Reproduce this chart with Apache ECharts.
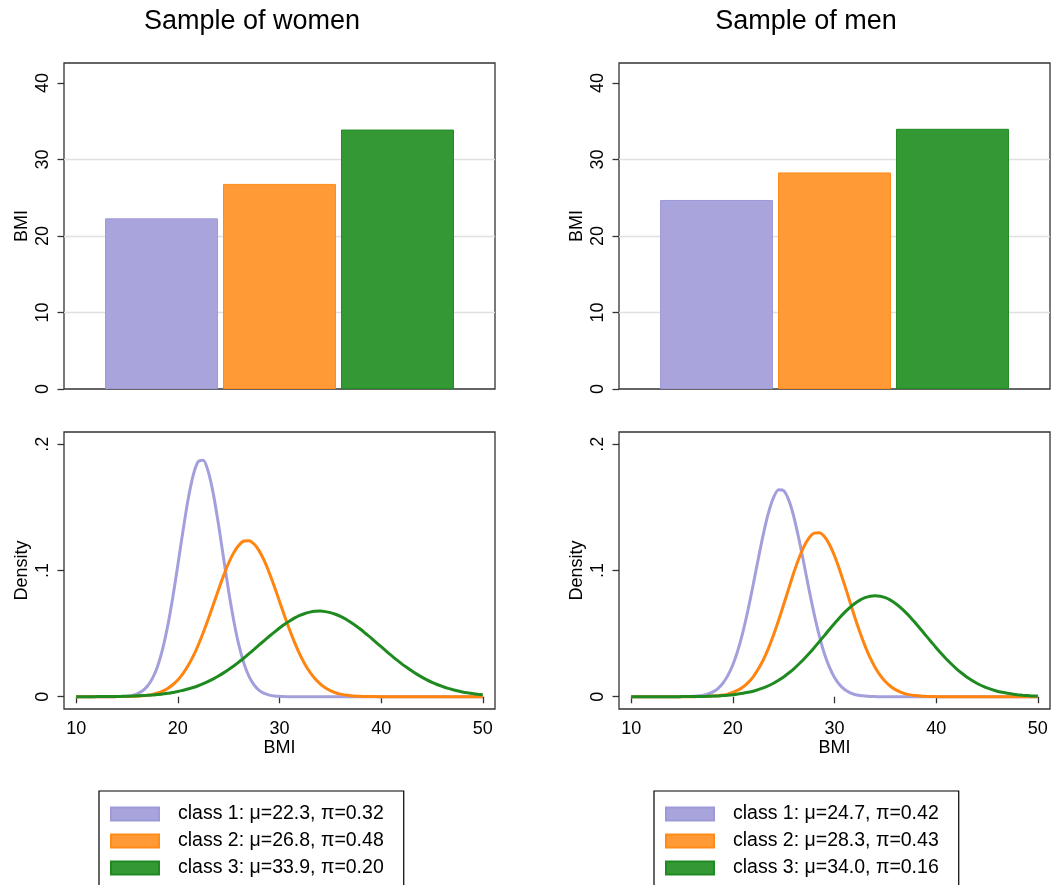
<!DOCTYPE html>
<html>
<head>
<meta charset="utf-8">
<title>BMI latent classes</title>
<script src="https://cdn.jsdelivr.net/npm/echarts@6.0.0/dist/echarts.min.js"></script>
<style>
  html, body { margin: 0; padding: 0; background: #fff; }
  #chart { width: 1051px; height: 885px; }
</style>
</head>
<body>
<div id="chart"></div>
<script>
// class means (bar heights) and shares
const classNames = ['class 1', 'class 2', 'class 3']
const womenMu = [22.3, 26.8, 33.9]
const womenPi = ['0.32', '0.48', '0.20']
const menMu = [24.7, 28.3, 34.0]
const menPi = ['0.42', '0.43', '0.16']

// BMI grid for the density curves (half units)
const bmi = [
  10, 10.5, 11, 11.5, 12, 12.5, 13, 13.5, 14, 14.5,
  15, 15.5, 16, 16.5, 17, 17.5, 18, 18.5, 19, 19.5,
  20, 20.5, 21, 21.5, 22, 22.5, 23, 23.5, 24, 24.5,
  25, 25.5, 26, 26.5, 27, 27.5, 28, 28.5, 29, 29.5,
  30, 30.5, 31, 31.5, 32, 32.5, 33, 33.5, 34, 34.5,
  35, 35.5, 36, 36.5, 37, 37.5, 38, 38.5, 39, 39.5,
  40, 40.5, 41, 41.5, 42, 42.5, 43, 43.5, 44, 44.5,
  45, 45.5, 46, 46.5, 47, 47.5, 48, 48.5, 49, 49.5,
  50]

// densities (women)
const womenDens1 = [
  0, 0, 0, 0, 0, 0, 0, 0, 0.0001, 0.0002,
  0.0005, 0.0011, 0.0023, 0.0045, 0.0083, 0.0145, 0.0240, 0.0377, 0.0560, 0.0786,
  0.1044, 0.1311, 0.1558, 0.1751, 0.1861, 0.1872, 0.1780, 0.1602, 0.1363, 0.1097,
  0.0835, 0.0602, 0.0410, 0.0264, 0.0161, 0.0093, 0.0051, 0.0026, 0.0013, 0.0006,
  0.0003, 0.0001, 0, 0, 0, 0, 0, 0, 0, 0,
  0, 0, 0, 0, 0, 0, 0, 0, 0, 0,
  0, 0, 0, 0, 0, 0, 0, 0, 0, 0,
  0, 0, 0, 0, 0, 0, 0, 0, 0, 0,
  0]
const womenDens2 = [
  0, 0, 0, 0, 0, 0, 0, 0, 0.0001, 0.0001,
  0.0002, 0.0003, 0.0004, 0.0007, 0.0012, 0.0019, 0.0030, 0.0045, 0.0066, 0.0095,
  0.0133, 0.0183, 0.0245, 0.0319, 0.0408, 0.0508, 0.0617, 0.0732, 0.0848, 0.0959,
  0.1059, 0.1141, 0.1200, 0.1233, 0.1236, 0.1209, 0.1155, 0.1077, 0.0980, 0.0871,
  0.0755, 0.0640, 0.0529, 0.0427, 0.0336, 0.0258, 0.0194, 0.0142, 0.0102, 0.0071,
  0.0048, 0.0032, 0.0021, 0.0013, 0.0008, 0.0005, 0.0003, 0.0002, 0.0001, 0.0001,
  0, 0, 0, 0, 0, 0, 0, 0, 0, 0,
  0, 0, 0, 0, 0, 0, 0, 0, 0, 0,
  0]
const womenDens3 = [
  0, 0, 0, 0, 0.0001, 0.0001, 0.0001, 0.0002, 0.0002, 0.0003,
  0.0004, 0.0005, 0.0007, 0.0009, 0.0011, 0.0014, 0.0017, 0.0022, 0.0027, 0.0034,
  0.0041, 0.0051, 0.0061, 0.0073, 0.0087, 0.0103, 0.0122, 0.0142, 0.0164, 0.0189,
  0.0216, 0.0244, 0.0275, 0.0307, 0.0341, 0.0375, 0.0410, 0.0445, 0.0479, 0.0512,
  0.0544, 0.0574, 0.0600, 0.0624, 0.0644, 0.0659, 0.0670, 0.0676, 0.0678, 0.0674,
  0.0666, 0.0653, 0.0636, 0.0615, 0.0590, 0.0562, 0.0532, 0.0499, 0.0466, 0.0431,
  0.0396, 0.0361, 0.0327, 0.0294, 0.0262, 0.0233, 0.0205, 0.0179, 0.0155, 0.0133,
  0.0114, 0.0097, 0.0082, 0.0068, 0.0057, 0.0047, 0.0038, 0.0031, 0.0025, 0.0020,
  0.0016]

// densities (men)
const menDens1 = [
  0, 0, 0, 0, 0, 0, 0, 0, 0, 0,
  0.0001, 0.0001, 0.0003, 0.0006, 0.0011, 0.0020, 0.0037, 0.0063, 0.0105, 0.0167,
  0.0253, 0.0369, 0.0516, 0.0691, 0.0887, 0.1091, 0.1287, 0.1455, 0.1577, 0.1638,
  0.1632, 0.1557, 0.1425, 0.1249, 0.1051, 0.0846, 0.0654, 0.0484, 0.0343, 0.0234,
  0.0152, 0.0095, 0.0057, 0.0033, 0.0018, 0.0010, 0.0005, 0.0002, 0.0001, 0,
  0, 0, 0, 0, 0, 0, 0, 0, 0, 0,
  0, 0, 0, 0, 0, 0, 0, 0, 0, 0,
  0, 0, 0, 0, 0, 0, 0, 0, 0, 0,
  0]
const menDens2 = [
  0, 0, 0, 0, 0, 0, 0, 0, 0, 0,
  0, 0, 0, 0.0001, 0.0001, 0.0003, 0.0005, 0.0008, 0.0013, 0.0021,
  0.0034, 0.0052, 0.0077, 0.0112, 0.0158, 0.0219, 0.0293, 0.0383, 0.0488, 0.0605,
  0.0730, 0.0858, 0.0983, 0.1096, 0.1190, 0.1258, 0.1295, 0.1298, 0.1268, 0.1205,
  0.1116, 0.1006, 0.0884, 0.0756, 0.0629, 0.0510, 0.0403, 0.0310, 0.0232, 0.0169,
  0.0120, 0.0083, 0.0056, 0.0037, 0.0023, 0.0015, 0.0009, 0.0005, 0.0003, 0.0002,
  0.0001, 0, 0, 0, 0, 0, 0, 0, 0, 0,
  0, 0, 0, 0, 0, 0, 0, 0, 0, 0,
  0]
const menDens3 = [
  0, 0, 0, 0, 0, 0, 0, 0, 0, 0,
  0.0001, 0.0001, 0.0001, 0.0002, 0.0002, 0.0003, 0.0005, 0.0006, 0.0009, 0.0012,
  0.0016, 0.0021, 0.0027, 0.0035, 0.0044, 0.0056, 0.0070, 0.0087, 0.0107, 0.0131,
  0.0157, 0.0188, 0.0221, 0.0259, 0.0299, 0.0342, 0.0388, 0.0436, 0.0484, 0.0533,
  0.0580, 0.0626, 0.0668, 0.0706, 0.0738, 0.0765, 0.0784, 0.0796, 0.0800, 0.0796,
  0.0784, 0.0765, 0.0738, 0.0706, 0.0668, 0.0626, 0.0580, 0.0533, 0.0484, 0.0436,
  0.0388, 0.0342, 0.0299, 0.0259, 0.0221, 0.0188, 0.0157, 0.0131, 0.0107, 0.0087,
  0.0070, 0.0056, 0.0044, 0.0035, 0.0027, 0.0021, 0.0016, 0.0012, 0.0009, 0.0006,
  0.0005]

const barTicks = [0, 10, 20, 30, 40]
const densTicks = [0, 0.1, 0.2]
const bmiTicks = [10, 20, 30, 40, 50]

// colours
const barFill = ['#a9a5dc', '#ff9a36', '#349834']
const barEdge = ['#9e99d8', '#ff8c1a', '#208a20']
const lineColor = ['#a39fdc', '#ff8410', '#1f8a1f']

const FONT = '"Liberation Sans", Arial, Helvetica, sans-serif'
const frameColor = '#333'

const womenLabels = classNames.map((c, i) => c + ': \u03bc=' + womenMu[i].toFixed(1) + ', \u03c0=' + womenPi[i])
const menLabels = classNames.map((c, i) => c + ': \u03bc=' + menMu[i].toFixed(1) + ', \u03c0=' + menPi[i])

const chart = echarts.init(document.getElementById('chart'), null, { renderer: 'canvas' })

function gridBox(left, top, height) {
  return { left: left, top: top, width: 431, height: height, show: true, borderColor: frameColor, borderWidth: 1.3, backgroundColor: '#fff' }
}

function barYAxis(gridIndex) {
  return {
    type: 'value', gridIndex: gridIndex, min: 0, max: 42.6,
    name: 'BMI', nameLocation: 'middle', nameGap: 33,
    nameTextStyle: { fontFamily: FONT, fontSize: 18, color: '#000' },
    axisLine: { show: false },
    axisTick: { show: true, length: 6.5, customValues: barTicks, lineStyle: { color: frameColor, width: 1.3 } },
    axisLabel: { rotate: 90, margin: 12, customValues: barTicks, fontFamily: FONT, fontSize: 18, color: '#000' },
    splitLine: { show: true, lineStyle: { color: ['transparent', '#e0e0e0', '#e0e0e0', '#e0e0e0', 'transparent', 'transparent'], width: 1.3 } }
  }
}

function barXAxis(gridIndex) {
  return {
    type: 'category', gridIndex: gridIndex, data: [''],
    axisLine: { show: false }, axisTick: { show: false }, axisLabel: { show: false }, splitLine: { show: false }
  }
}

function densYAxis(gridIndex) {
  return {
    type: 'value', gridIndex: gridIndex, min: -0.0097, max: 0.2096,
    name: 'Density', nameLocation: 'middle', nameGap: 33,
    nameTextStyle: { fontFamily: FONT, fontSize: 18, color: '#000' },
    axisLine: { show: false },
    axisTick: { show: true, length: 6.5, customValues: densTicks, lineStyle: { color: frameColor, width: 1.3 } },
    axisLabel: {
      rotate: 90, margin: 12, customValues: densTicks, fontFamily: FONT, fontSize: 18, color: '#000',
      formatter: v => (v === 0 ? '0' : String(+v.toFixed(1)).replace(/^0/, ''))
    },
    splitLine: { show: false }
  }
}

function densXAxis(gridIndex) {
  return {
    type: 'value', gridIndex: gridIndex, min: 8.8, max: 51.2,
    name: 'BMI', nameLocation: 'middle', nameGap: 30,
    nameTextStyle: { fontFamily: FONT, fontSize: 18, color: '#000' },
    axisLine: { show: false },
    axisTick: { show: true, length: 6.5, customValues: bmiTicks, lineStyle: { color: frameColor, width: 1.3 } },
    axisLabel: { margin: 11, customValues: bmiTicks, fontFamily: FONT, fontSize: 18, color: '#000' },
    splitLine: { show: false }
  }
}

function barSeries(labels, means, axisIndex) {
  return labels.map((name, i) => ({
    name: name, type: 'bar', xAxisIndex: axisIndex, yAxisIndex: axisIndex,
    data: [means[i]], barWidth: 113, barGap: '4.4%',
    itemStyle: { color: barFill[i], borderColor: barEdge[i], borderWidth: 1 },
    silent: true
  }))
}

function lineSeries(labels, curves, axisIndex) {
  return labels.map((name, i) => ({
    name: name, type: 'line', xAxisIndex: axisIndex, yAxisIndex: axisIndex,
    data: bmi.map((x, k) => [x, curves[i][k]]),
    showSymbol: false, symbol: 'none', smooth: 0.25,
    lineStyle: { color: lineColor[i], width: 3 },
    itemStyle: { color: lineColor[i] },
    silent: true
  }))
}

function legendBox(left, labels) {
  return {
    left: left, top: 791, height: 120, orient: 'vertical', data: labels, selectedMode: false,
    icon: 'rect', itemWidth: 48, itemHeight: 13, itemGap: 7,
    borderColor: '#000', borderWidth: 1.2, padding: [13, 20, 30, 11],
    textStyle: { fontFamily: FONT, fontSize: 19.5, lineHeight: 20, color: '#000', padding: [0, 0, 0, 14] }
  }
}

chart.setOption({
  animation: false,
  backgroundColor: '#fff',
  textStyle: { fontFamily: FONT },
  graphic: [
    { type: 'text', x: 252, y: 8, style: { text: 'Sample of women', font: '27px ' + FONT, fill: '#000', textAlign: 'center', textVerticalAlign: 'top' } },
    { type: 'text', x: 806, y: 8, style: { text: 'Sample of men', font: '27px ' + FONT, fill: '#000', textAlign: 'center', textVerticalAlign: 'top' } }
  ],
  grid: [
    gridBox(64, 63, 326),
    gridBox(619, 63, 326),
    gridBox(64, 432, 277),
    gridBox(619, 432, 277)
  ],
  xAxis: [barXAxis(0), barXAxis(1), densXAxis(2), densXAxis(3)],
  yAxis: [barYAxis(0), barYAxis(1), densYAxis(2), densYAxis(3)],
  legend: [legendBox(99, womenLabels), legendBox(654, menLabels)],
  series: [].concat(
    barSeries(womenLabels, womenMu, 0),
    barSeries(menLabels, menMu, 1),
    lineSeries(womenLabels, [womenDens1, womenDens2, womenDens3], 2),
    lineSeries(menLabels, [menDens1, menDens2, menDens3], 3)
  )
})

window.addEventListener('resize', () => chart.resize())
</script>
</body>
</html>
